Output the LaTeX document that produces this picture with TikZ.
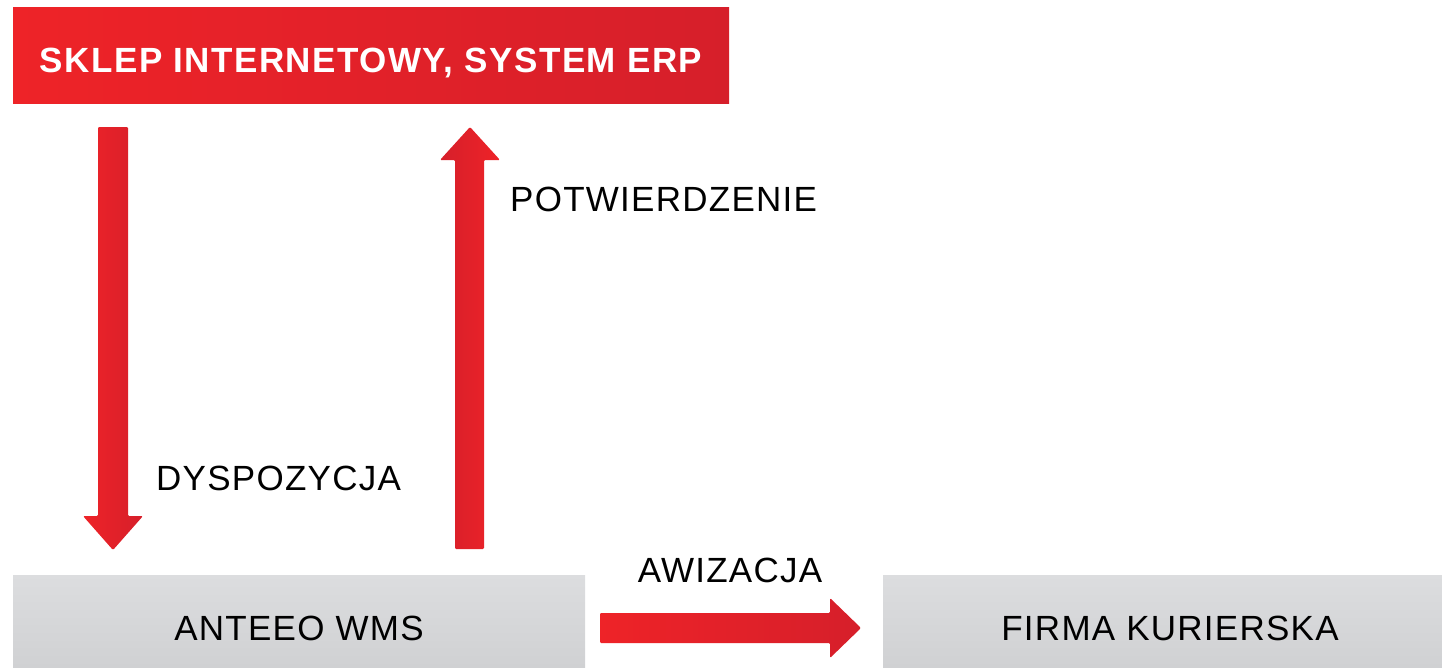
\documentclass[tikz,border=0pt]{standalone}
\usepackage{fontspec}
\setmainfont{Liberation Sans}[LetterSpace=3.6]
\newfontfamily\titlefont{Liberation Sans}[LetterSpace=4.2]
\usetikzlibrary{calc}
\definecolor{redA}{HTML}{EE2328}
\definecolor{redB}{HTML}{D61F2A}
\definecolor{grayA}{HTML}{DCDDDF}
\definecolor{grayB}{HTML}{D0D1D3}
\tikzset{
  redbox/.style={left color=redA, right color=redB, draw=none},
  graybox/.style={top color=grayA, bottom color=grayB, draw=none},
  label/.style={inner sep=0pt, font=\fontsize{35}{40}\selectfont, text=black},
  arrowshade/.style={left color=redA, right color=redB, rounded corners=1.2pt},
  arrowshadeR/.style={left color=redB, right color=redA, rounded corners=1.2pt},
}
\begin{document}
\begin{tikzpicture}[x=1pt,y=-1pt]
\useasboundingbox (0,0) rectangle (1442,667);
% boxes
\path[redbox] (13,7) rectangle (729,103);
\node[inner sep=0pt, anchor=base, text=white, font=\titlefont\bfseries\fontsize{35}{40}\selectfont] (erp) at (371,72) {SKLEP INTERNETOWY, SYSTEM ERP};
\path[graybox] (13,575) rectangle (585,667);
\node[label, anchor=base] (wms) at (299,640) {ANTEEO WMS};
\path[graybox] (883,575) rectangle (1442,667);
\node[label, anchor=base] (kurier) at (1170,640) {FIRMA KURIERSKA};
% arrow down
\coordinate (d0) at (113,127);
\coordinate (d1) at (113,550);
\shade[arrowshade] ($(d0)+(-15,0)$) -- ($(d0)+(15,0)$) -- ($(d1)+(15,-34)$) -- ($(d1)+(30,-34)$) -- (d1) -- ($(d1)+(-30,-34)$) -- ($(d1)+(-15,-34)$) -- cycle;
% arrow up
\coordinate (u0) at (470,549);
\coordinate (u1) at (470,127);
\shade[arrowshadeR] ($(u0)+(-15,0)$) -- ($(u0)+(14,0)$) -- ($(u1)+(14,33)$) -- ($(u1)+(30,33)$) -- (u1) -- ($(u1)+(-30,33)$) -- ($(u1)+(-15,33)$) -- cycle;
% arrow right
\coordinate (r0) at (600,628);
\coordinate (r1) at (861,628);
\shade[arrowshade, left color=redA, right color=redB] ($(r0)+(0,-15)$) -- ($(r1)+(-31,-15)$) -- ($(r1)+(-31,-30)$) -- (r1) -- ($(r1)+(-31,30)$) -- ($(r1)+(-31,15)$) -- ($(r0)+(0,15)$) -- cycle;
% labels
\node[label, anchor=base west] (potw) at (510,211) {POTWIERDZENIE};
\node[label, anchor=base west] (dysp) at (156,490) {DYSPOZYCJA};
\node[label, anchor=base] (awiz) at (730,582) {AWIZACJA};
\end{tikzpicture}
\end{document}
